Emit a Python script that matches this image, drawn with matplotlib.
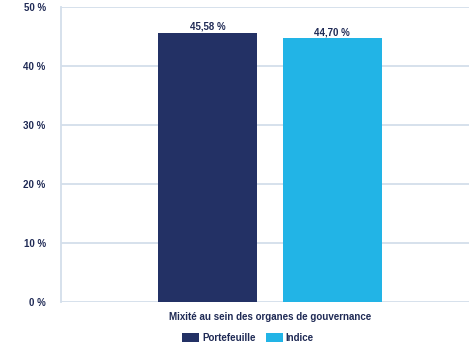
import matplotlib
matplotlib.use("Agg")
import matplotlib.pyplot as plt
from matplotlib.patches import Patch

category = "Mixité au sein des organes de gouvernance"
series = ["Portefeuille", "Indice"]
values = [45.58, 44.70]
value_labels = ["45,58 %", "44,70 %"]
yticks = [0, 10, 20, 30, 40, 50]
ytick_labels = ["0 %", "10 %", "20 %", "30 %", "40 %", "50 %"]

colors = ["#233165", "#22b4e6"]
grid_c = "#d3deeb"
text_c = "#1f2a55"
plt.rcParams['font.family'] = ['Liberation Sans', 'DejaVu Sans']
fs = 7

fig = plt.figure(figsize=(4.69, 3.51), dpi=100)
ax = fig.add_axes([61/469, 1 - 302/351, 408/469, 295/351])

offsets = [-0.2525, 0.2525]
width = 0.4
for off, v, c, lab in zip(offsets, values, colors, value_labels):
    ax.bar(off, v, width=width, color=c, zorder=3)
    ax.text(off, v + 0.2, lab, ha="center", va="bottom", fontsize=fs,
            fontweight="bold", color=text_c, zorder=4)

ax.set_xlim(-0.844, 0.805)
ax.set_ylim(0, 50)
ax.set_yticks(yticks)
ax.set_yticklabels(ytick_labels, fontsize=fs, fontweight="bold", color=text_c)
ax.tick_params(axis="y", length=0, pad=11)
ax.set_xticks([0])
ax.set_xticklabels([category], fontsize=fs, fontweight="bold", color=text_c)
ax.tick_params(axis="x", length=0, pad=7)
ax.grid(axis="y", color=grid_c, linewidth=1.3, zorder=0)
for s in ["top", "right", "bottom"]:
    ax.spines[s].set_visible(False)
ax.spines["left"].set_color(grid_c)
ax.spines["left"].set_linewidth(1.3)

handles = [Patch(facecolor=c, label=s) for c, s in zip(colors, series)]
leg = fig.legend(handles=handles, loc="center", bbox_to_anchor=(248/469, 1 - 338/351),
           ncol=2, frameon=False, handlelength=1.75, handleheight=1.0,
           columnspacing=1.0, handletextpad=0.3,
           prop={"size": fs, "weight": "bold"}, labelcolor=text_c)

fig.savefig("out.png", dpi=100)
